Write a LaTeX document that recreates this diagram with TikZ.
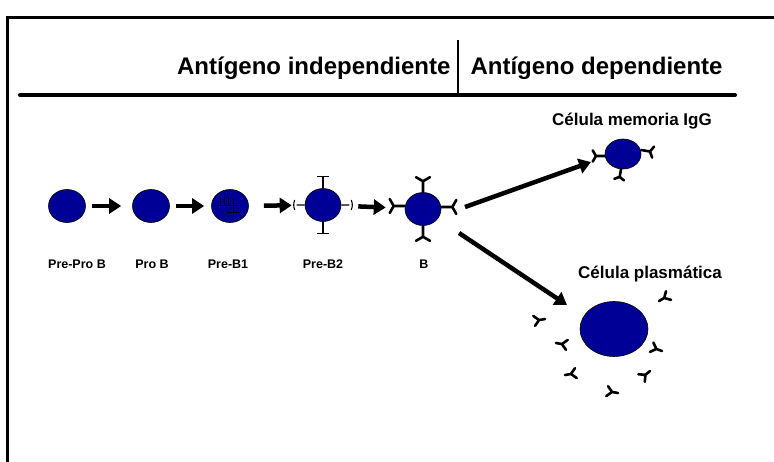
\documentclass[tikz,border=0pt]{standalone}
\usepackage{fontspec}
\setmainfont{Liberation Sans}
\usetikzlibrary{arrows.meta,shapes.geometric}
\definecolor{cellblue}{RGB}{0,0,150}
\begin{document}
\begin{tikzpicture}[x=1pt,y=-1pt,
  cell/.style={ellipse,draw=black,fill=cellblue,line width=0.6pt,inner sep=0pt,
    minimum width=37pt,minimum height=33pt},
  bigarrow/.style={line width=4.5pt,-{Triangle[length=12pt,width=15pt]}},
  smalllabel/.style={font=\bfseries\fontsize{12.5}{14}\selectfont},
  biglabel/.style={font=\bfseries\fontsize{17}{20}\selectfont},
  headlabel/.style={font=\bfseries\fontsize{24}{27}\selectfont},
  abline/.style={line width=2.6pt,line cap=round,line join=round},
  thinline/.style={line width=1.1pt,draw=black},
  % membrane antibody, stem pointing away from the cell
  memab/.pic={\draw[abline] (0,0) -- (0,-11) (-7,-15) -- (0,-11) -- (7,-15);},
  % free secreted antibody
  freeab/.pic={\draw[abline] (0,0) -- (0,-6) (-5,-11) -- (0,-6) -- (5,-11);},
  % pre-B receptor, thin T shape
  prebr/.pic={\draw[thinline] (0,0) -- (0,-12) (-6,-12) -- (6,-12);},
  prebs/.pic={\draw[thinline] (0,0) -- (0,-8) (-5,-10) to[bend left=20] (5,-10);}
]
\useasboundingbox (0,0) rectangle (774,461);
\begin{scope}
\clip (0,0) rectangle (774,461);
% outer frame
\draw[line width=3pt] (7,480) -- (7,17) -- (790,17);
\end{scope}

% header
\draw[line width=4pt,line cap=round] (20,95) coordinate (hl) -- (735,95) coordinate (hr);
\coordinate (sep) at (458,95);
\draw[line width=2pt] (sep) -- ++(0,-55);
\node[headlabel,anchor=east] (indep) at (454,68) {Antígeno independiente};
\node[headlabel,anchor=west] (dep) at (467,68) {Antígeno dependiente};

% cell row
\node[cell] (preprob) at (67,206) {};
\node[cell] (prob) at (151,206) {};
\node[cell] (preb1) at (230,206) {};
\node[cell,minimum width=36pt] (preb2) at (323,205) {};
\node[cell,minimum width=36pt] (b) at (423,209) {};

% cytoplasmic heavy chain inside Pre-B1
\draw[line width=1pt] (220,197) -- (220,205) (224,197) -- (224,205) (228,197) -- (228,205)
  (216,205) -- (239,205) (233,199) -- (233,212) (227,212) -- (239,212);

% pre-B receptors
\pic at (preb2.north) {prebr};
\pic[rotate=180] at (preb2.south) {prebr};
\pic[rotate=90] at (preb2.west) {prebs};
\pic[rotate=-90] at (preb2.east) {prebs};

% membrane antibodies of the B cell
\pic at (b.north) {memab};
\pic[rotate=180] at (b.south) {memab};
\pic[rotate=90] at ([yshift=3]b.west) {memab};
\pic[rotate=-90] at ([yshift=2]b.east) {memab};

% labels of the row
\node[smalllabel] (l1) at (77,264) {Pre-Pro B};
\node[smalllabel] (l2) at (152,264) {Pro B};
\node[smalllabel] (l3) at (228,264) {Pre-B1};
\node[smalllabel] (l4) at (323,264) {Pre-B2};
\node[smalllabel] (l5) at (424,264) {B};

% arrows along the row
\draw[bigarrow,shorten <=6pt,shorten >=11pt] (preprob) -- (prob);
\draw[bigarrow,shorten <=6pt,shorten >=7pt] (prob) -- (preb1);
\draw[bigarrow,shorten <=15pt,shorten >=13pt] (preb1) -- (preb2);
\draw[bigarrow,shorten <=17pt,shorten >=19pt] (preb2) -- (b);

% memory cell
\node[cell,minimum width=36pt,minimum height=30pt] (mem) at (623,154) {};
\node[biglabel] (lmem) at (632,121) {Célula memoria IgG};
\pic[rotate=90,scale=0.8] at ([yshift=-2]mem.west) {memab};
\pic[rotate=-100,scale=0.8] at ([yshift=4]mem.east) {memab};
\pic[rotate=170,scale=0.7] at ([xshift=-2]mem.south) {memab};

% plasma cell
\node[cell,minimum width=68pt,minimum height=55pt] (plasma) at (614,329) {};
\node[biglabel] (lpl) at (650,274) {Célula plasmática};
\pic[rotate=-60] at (659,301) {freeab};
\pic[rotate=100] at (545,319) {freeab};
\pic[rotate=-100] at (556,343) {freeab};
\pic[rotate=-80] at (565,375) {freeab};
\pic[rotate=70] at (662,351) {freeab};
\pic[rotate=130] at (650,371) {freeab};
\pic[rotate=80] at (618,393) {freeab};

% branching arrows
\coordinate (m1) at (465,207);
\coordinate (m2) at (591,162);
\coordinate (p1) at (459,233);
\coordinate (p2) at (567,305);
\draw[bigarrow] (m1) -- (m2);
\draw[bigarrow] (p1) -- (p2);
\end{tikzpicture}
\end{document}
